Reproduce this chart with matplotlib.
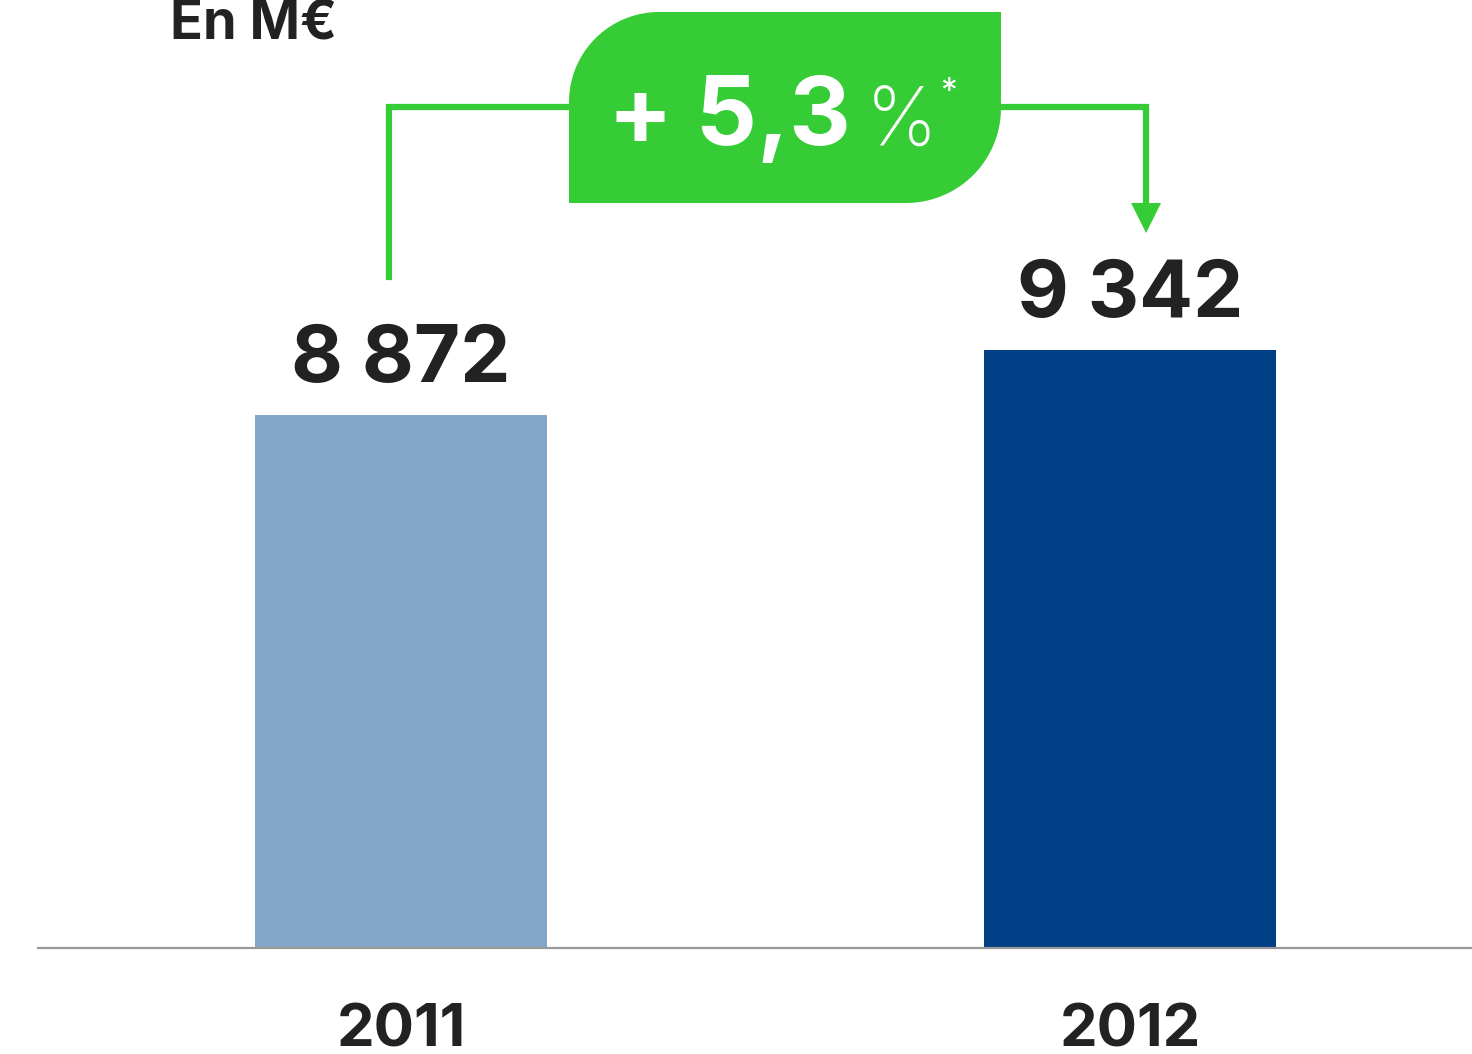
import numpy as np
import matplotlib.pyplot as plt
from matplotlib.patches import Polygon

# données
years = ["2011", "2012"]
values = [8872, 9342]
bar_colors = ["#84A6C8", "#003E85"]
growth_label = "+ 5,3"
unit_label = "En M€"

base = 5018
green = "#35CC35"
dark = "#222222"

plt.rcParams['font.family'] = ['Inter', 'Liberation Sans', 'DejaVu Sans']

W, H = 1472, 1054
fig = plt.figure(figsize=(W / 100, H / 100), dpi=100)
ax = fig.add_axes([0, 0, 1, 1])
ax.set_xlim(-0.550, 1.469)
ax.set_ylim(4251.5, 11872.7)
ax.axis('off')

x = np.arange(len(values))
heights = [v - base for v in values]
ax.bar(x, heights, bottom=base, width=0.4005, color=bar_colors, zorder=2)
ax.plot([-0.4993, 1.469], [base, base], color="#999999", lw=1.6, zorder=3,
        solid_capstyle='butt')

for xi, v, yr in zip(x, values, years):
    lab = f"{v:,}".replace(",", " ")
    ax.annotate(lab, (xi, v), xytext=(0, 23.5), textcoords='offset points',
                ha='center', va='baseline', fontsize=57.5, fontweight='bold', color=dark)
    ax.annotate(yr, (xi, base), xytext=(0, -71), textcoords='offset points',
                ha='center', va='baseline', fontsize=43, fontweight='bold', color=dark)

# calque en pixels pour le bandeau
ov = fig.add_axes([0, 0, 1, 1])
ov.set_xlim(0, W)
ov.set_ylim(0, H)
ov.axis('off')
ov.patch.set_alpha(0)

ov.text(170, H - 39, unit_label, ha='left', va='baseline', fontsize=39,
        fontweight='bold', color=dark)

# positions des barres en pixels
p0 = ax.transData.transform((x[0], values[0]))
p1 = ax.transData.transform((x[1], values[1]))

left, right, top, bottom = 569, 1001, H - 12, H - 203
r1, r2 = 90, 95
t1 = np.linspace(np.pi, np.pi / 2, 30)
t2 = np.linspace(0, -np.pi / 2, 30)
pts = [(left, bottom), (left, top - r1)]
pts += list(zip(left + r1 + r1 * np.cos(t1), top - r1 + r1 * np.sin(t1)))
pts += [(right, top), (right, bottom + r2)]
pts += list(zip(right - r2 + r2 * np.cos(t2), bottom + r2 + r2 * np.sin(t2)))
ov.add_patch(Polygon(pts, closed=True, color=green, lw=0, zorder=3))

ly = H - 107
lx0 = p0[0] - 12
lx1 = p1[0] + 16
ov.plot([lx0, lx0, left], [H - 277, ly, ly], color=green, lw=4.5,
        solid_joinstyle='miter', zorder=2)
ov.plot([right, lx1, lx1], [ly, ly, H - 205], color=green, lw=4.5,
        solid_joinstyle='miter', zorder=2)
ov.add_patch(Polygon([(lx1 - 15, H - 203), (lx1 + 15, H - 203), (lx1, H - 233)],
                     closed=True, color=green, lw=0, zorder=2))

ov.text(608, H - 145, growth_label, ha='left', va='baseline', fontsize=69,
        fontweight='bold', color='white', zorder=4)
ov.text(866, H - 145, "%", ha='left', va='baseline', fontsize=58,
        fontweight='light', color='white', zorder=4)
ov.text(940, H - 102, "*", ha='left', va='baseline', fontsize=24,
        color='white', zorder=4)

fig.savefig("out.png", dpi=100)
